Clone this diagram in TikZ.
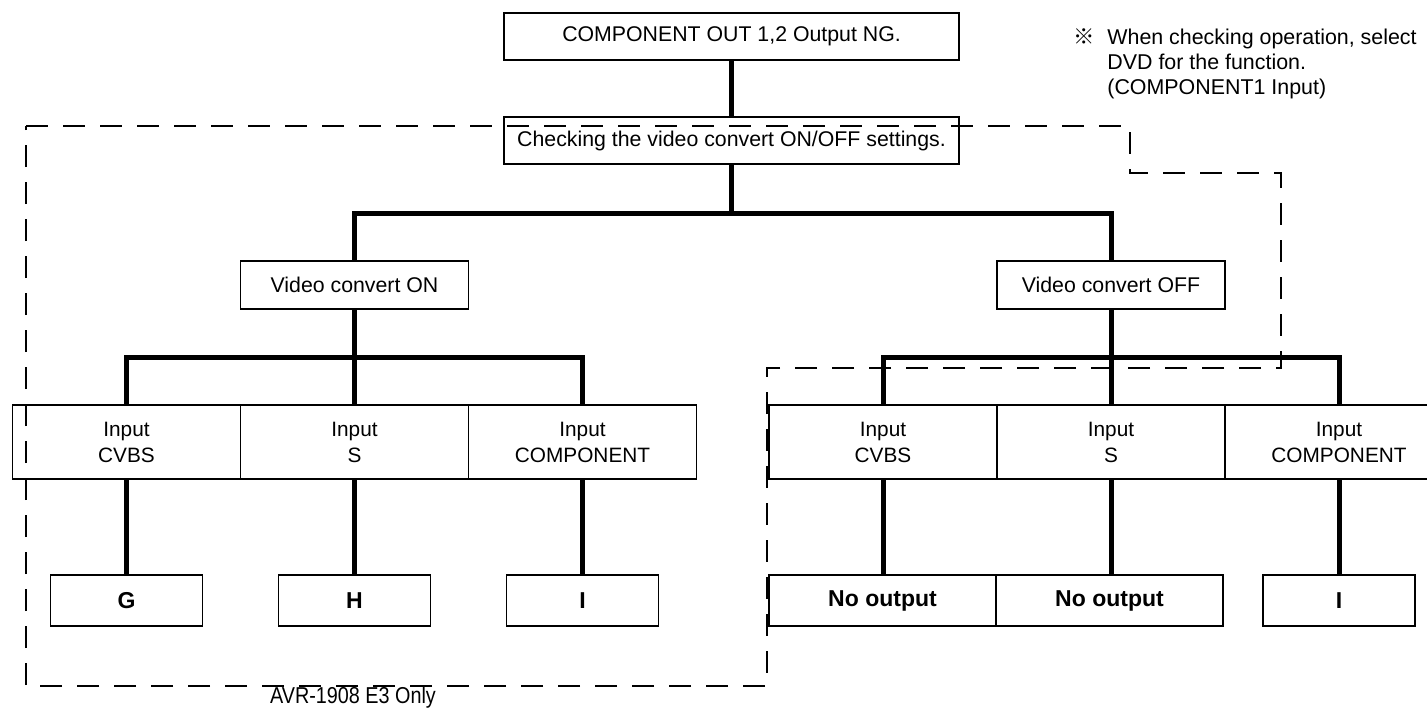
\documentclass[tikz,border=0pt]{standalone}
\usepackage{fontspec}
\usepackage{graphicx}
\setmainfont{Liberation Sans}
\newfontfamily\cjkfont{Noto Sans CJK JP}
\begin{document}
\begin{tikzpicture}[x=1pt,y=-1pt,
  box/.style={draw, line width=1.8pt, inner sep=0pt, outer sep=0pt, align=center,
    font=\fontsize{21.3}{26}\selectfont},
  topbox/.style={box, minimum width=455pt, minimum height=47pt},
  vbox/.style={box, minimum width=228pt, minimum height=48pt},
  inbox/.style={box, line width=1.6pt, minimum width=228pt, minimum height=74pt,
    font=\fontsize{20.8}{26}\selectfont},
  outbox/.style={box, minimum width=152pt, minimum height=51pt,
    font=\fontsize{23}{26}\selectfont\bfseries},
  nobox/.style={outbox, minimum width=227pt},
  conn/.style={line width=5pt},
  dashbox/.style={line width=2pt, dash pattern=on 22pt off 15pt},
  note/.style={inner sep=0pt, outer sep=0pt, anchor=north west,
    font=\fontsize{21.4}{25}\selectfont},
  avr/.style={inner sep=0pt, font=\fontsize{23}{26}\selectfont}]
\useasboundingbox (0,0) rectangle (1427,712);

% nodes
\node[topbox] (top) at (731.5,36.5) {COMPONENT OUT 1,2 Output NG.};
\node[topbox] (chk) at (731.5,140.5) {Checking the video convert ON/OFF settings.};
\node[vbox] (von) at (354.5,285) {Video convert ON};
\node[vbox] (voff) at (1111,285) {Video convert OFF};

\node[inbox] (li1) at (126.5,442) {Input\\CVBS};
\node[inbox] (li2) at (354.5,442) {Input\\S};
\node[inbox] (li3) at (582.5,442) {Input\\COMPONENT};
\node[inbox] (ri1) at (883,442) {Input\\CVBS};
\node[inbox] (ri2) at (1111,442) {Input\\S};
\node[inbox] (ri3) at (1339,442) {Input\\COMPONENT};

\node[outbox] (g) at (126.5,600.5) {G};
\node[outbox] (h) at (354.5,600.5) {H};
\node[outbox] (i1) at (582.5,600.5) {I};
\node[nobox] (no1) at (882.5,600.5) {No output};
\node[nobox] (no2) at (1109.5,600.5) {No output};
\node[outbox] (i2) at (1339,600.5) {I};

\node[note] (nt) at (1073,27) {\begin{tabular}{@{}l@{\hspace{13pt}}l@{}}
{\cjkfont ※}& When checking operation, select\\
& DVD for the function.\\
& (COMPONENT1 Input)
\end{tabular}};

\node[avr] (avr) at (353,698) {\scalebox{0.86}[1]{AVR-1908 E3 Only}};

% connectors
\coordinate (b1) at (731.5,213);
\coordinate (b2) at (354.5,357);
\coordinate (b3) at (1111,357);
\draw[conn] (top) -- (chk);
\draw[conn] (chk.south) -- (b1);
\draw[conn] (von.north) |- (b1) -| (voff.north);
\draw[conn] (li1.north) |- (b2) -| (li3.north);
\draw[conn] (von.south) -- (li2.north);
\draw[conn] (ri1.north) |- (b3) -| (ri3.north);
\draw[conn] (voff.south) -- (ri2.north);
\draw[conn] (li1.south) -- (g.north);
\draw[conn] (li2.south) -- (h.north);
\draw[conn] (li3.south) -- (i1.north);
\draw[conn] (ri1.south) -- (ri1.south |- no1.north);
\draw[conn] (ri2.south) -- (ri2.south |- no2.north);
\draw[conn] (ri3.south) -- (i2.north);

% dashed region
\draw[dashbox] (26,126) -- (1130,126) -- (1130,173) -- (1281,173) -- (1281,368)
  -- (767,368) -- (767,686) -- (26,686) -- cycle;
\end{tikzpicture}
\end{document}
